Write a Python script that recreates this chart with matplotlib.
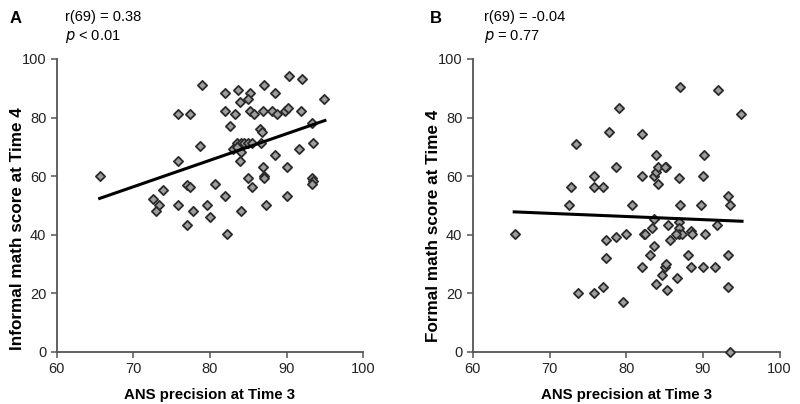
import matplotlib
matplotlib.use("Agg")
from matplotlib import pyplot as plt

plt.rcParams['font.family'] = ['Liberation Sans', 'DejaVu Sans']

# Panel A: ANS precision at Time 3 vs informal math score at Time 4
ans_a = [65.6, 79.0, 75.8, 77.4, 78.7, 75.8, 73.8, 72.6, 73.4, 72.9,
         75.8, 77.0, 77.4, 77.8, 77.0, 79.6, 80.0, 80.6, 81.9, 82.2,
         84.1, 85.0, 85.5, 83.9, 81.9, 83.6, 85.2, 83.9, 85.0, 81.9,
         83.3, 82.6, 87.1, 88.5, 90.3, 92.0, 94.9, 85.2, 85.7, 86.9,
         88.1, 88.7, 89.8, 90.2, 91.9, 93.3, 86.5, 86.8, 86.7, 83.5,
         84.0, 84.5, 85.0, 85.5, 83.0, 83.5, 84.0, 88.5, 91.6, 93.5,
         90.0, 86.9, 87.1, 87.1, 87.3, 90.0, 93.3, 93.5, 93.3]
informal = [60.2, 91.2, 81.2, 81.2, 70.2, 65.2, 55.2, 52.2, 50.3, 48.1,
            50.3, 57.1, 56.2, 48.1, 43.2, 50.3, 46.2, 57.2, 53.2, 40.2,
            48.1, 59.3, 56.2, 65.2, 88.3, 89.3, 88.3, 85.2, 86.2, 82.3,
            81.2, 77.1, 91.2, 88.3, 94.3, 93.2, 86.2, 82.3, 81.2, 82.3,
            82.3, 81.2, 82.3, 83.3, 82.3, 78.3, 76.2, 75.1, 71.2, 71.2,
            71.2, 71.2, 71.2, 71.2, 69.3, 70.0, 68.3, 67.2, 69.2, 71.2,
            63.2, 63.2, 60.1, 59.2, 50.3, 53.2, 59.3, 58.2, 57.2]
fit_x_a = [65.6, 95.0]
fit_y_a = [52.4, 79.0]

# Panel B: ANS precision at Time 3 vs formal math score at Time 4
ans_b = [65.5, 72.5, 72.8, 73.4, 73.7, 75.8, 77.0, 75.8, 75.8, 77.0,
         77.4, 77.4, 77.8, 78.7, 78.7, 79.0, 79.6, 80.0, 80.7, 82.0,
         82.0, 82.0, 82.3, 82.5, 83.1, 83.3, 83.6, 83.6, 83.9, 83.6,
         83.9, 84.1, 84.1, 85.2, 83.9, 84.7, 85.0, 85.2, 85.3, 85.5,
         85.7, 86.6, 86.9, 87.0, 87.0, 86.9, 86.9, 86.9, 87.3, 86.5,
         88.1, 88.4, 88.6, 88.4, 90.0, 90.2, 89.8, 90.3, 90.0, 91.6,
         91.9, 92.0, 93.3, 93.5, 93.3, 93.3, 93.5, 95.0, 85.0]
formal = [40.2, 50.3, 56.2, 71.1, 20.1, 20.1, 22.2, 60.2, 56.2, 56.2,
          38.1, 32.1, 75.2, 63.2, 39.1, 83.2, 17.2, 40.2, 50.3, 74.3,
          60.2, 29.1, 40.2, 40.2, 33.2, 42.2, 36.2, 45.3, 67.1, 60.2,
          61.5, 57.2, 63.2, 63.2, 23.1, 26.2, 29.1, 30.1, 21.2, 43.2,
          38.1, 25.1, 59.2, 90.3, 50.3, 44.3, 42.2, 40.2, 40.2, 40.2,
          33.2, 41.2, 40.2, 29.1, 60.2, 67.1, 50.3, 40.2, 29.1, 29.1,
          43.2, 89.3, 53.2, 50.3, 33.2, 22.2, 0.0, 81.2, 63.2]
fit_x_b = [65.4, 95.1]
fit_y_b = [47.8, 44.6]

x_ticks = [60, 70, 80, 90, 100]
y_ticks = [0, 20, 40, 60, 80, 100]

fig = plt.figure(figsize=(8, 4.04), dpi=100)
ax_a = fig.add_axes([0.071, 0.129, 0.383, 0.725])
ax_b = fig.add_axes([0.591, 0.129, 0.3835, 0.725])


def style_panel(ax, xs, ys, fx, fy, ylabel, ylab_y):
    ax.scatter(xs, ys, marker='D', s=22, facecolor='#9d9d9d',
               edgecolor='#2a2a2a', linewidth=1.3, zorder=3, clip_on=False)
    ax.plot(fx, fy, color='black', linewidth=2.2, zorder=4)
    ax.set_xlim(60, 100)
    ax.set_ylim(0, 100)
    ax.set_xticks(x_ticks)
    ax.set_yticks(y_ticks)
    for side in ['top', 'right']:
        ax.spines[side].set_visible(False)
    for side in ['left', 'bottom']:
        ax.spines[side].set_color('#555555')
        ax.spines[side].set_linewidth(1.3)
    ax.tick_params(axis='both', colors='#555555', labelcolor='#222222',
                   labelsize=10.5, width=1.1, length=4, direction='out')
    ax.set_xlabel("ANS precision at Time 3", fontsize=10.8, fontweight='bold')
    ax.xaxis.set_label_coords(0.5, -0.125)
    ax.set_ylabel(ylabel, fontsize=12.3, fontweight='bold')
    ax.yaxis.set_label_coords(-0.105, ylab_y)


style_panel(ax_a, ans_a, informal, fit_x_a, fit_y_a,
            "Informal math score at Time 4", 0.42)
style_panel(ax_b, ans_b, formal, fit_x_b, fit_y_b,
            "Formal math score at Time 4", 0.43)

fig.text(0.012, 0.955, "A", fontsize=12, fontweight='bold', va='center')
fig.text(0.081, 0.958, "r(69) = 0.38", fontsize=10.5, va='center')
fig.text(0.081, 0.91, "$\\it{p}$ < 0.01", fontsize=10.5, va='center')
fig.text(0.537, 0.955, "B", fontsize=12, fontweight='bold', va='center')
fig.text(0.605, 0.958, "r(69) = -0.04", fontsize=10.5, va='center')
fig.text(0.605, 0.91, "$\\it{p}$ = 0.77", fontsize=10.5, va='center')

plt.savefig("out.png", dpi=100)
